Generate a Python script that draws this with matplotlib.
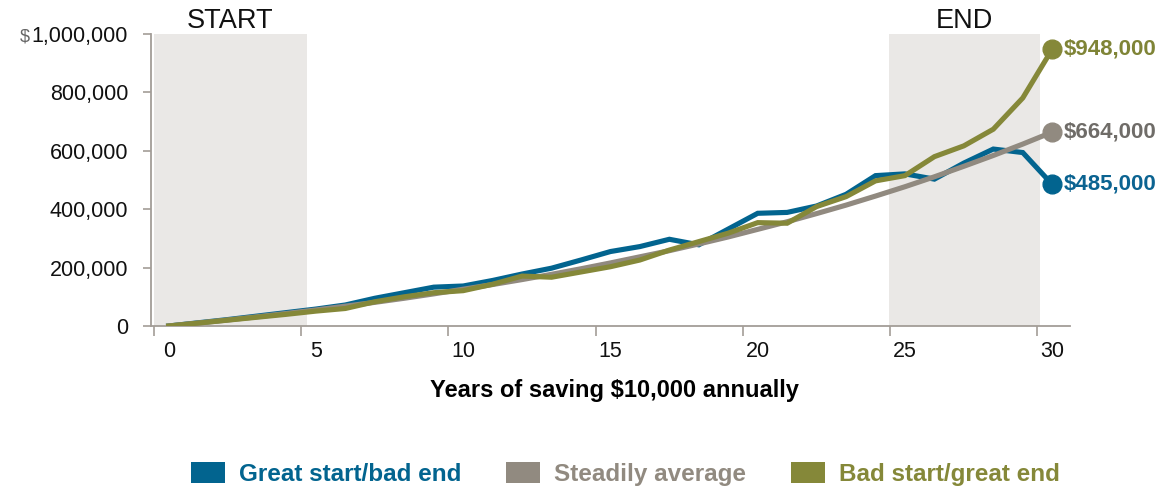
import numpy as np
import matplotlib.pyplot as plt
from matplotlib.patches import Patch

# Valores (em milhares de dólares), anos 0 a 30
anos = np.arange(0, 31)
inicio_bom = [0, 11, 22, 34, 46, 58, 72, 95, 114, 133, 137, 156, 178, 198, 226, 255,
              272, 297, 278, 332, 386, 389, 411, 451, 515, 521, 503, 558, 606, 594, 485]
constante = [0, 10, 20.5, 31.5, 43, 55, 68, 81, 95, 110, 126, 142, 159, 177, 196, 216,
             237, 258, 281, 305, 331, 357, 385, 414, 445, 477, 511, 547, 584, 623, 664]
inicio_ruim = [0, 10, 20, 30, 40, 51, 60, 83, 100, 114, 121, 143, 171, 167, 185, 203,
               226, 260, 289, 318, 354, 352, 409, 443, 497, 515, 580, 617, 674, 781, 948]

nomes = ["Great start/bad end", "Steadily average", "Bad start/great end"]
series = [inicio_bom, constante, inicio_ruim]
cores = ["#02648f", "#918a80", "#858839"]
cores_rotulo = ["#0b6391", "#6f6c68", "#7f8436"]

# faixas sombreadas (inicio e fim)
faixas = [(-0.5, 4.7, "START"), (24.45, 29.6, "END")]

fig = plt.figure(figsize=(11.68, 4.9), dpi=100)
ax = fig.add_axes([0.1293, 0.3347, 0.7867, 0.5959])

for x0, x1, txt in faixas:
    ax.axvspan(x0, x1, color="#eae8e6", lw=0, zorder=0)
    ax.annotate(txt, xy=((x0 + x1) / 2, 1), xycoords=("data", "axes fraction"),
                xytext=(0, 4), textcoords="offset points", ha="center", va="baseline",
                fontsize=19.5, family="Liberation Sans", color="#111111")

# ordem de desenho: cinza embaixo, depois azul, verde por cima
ordem = [1, 0, 2]
for i in ordem:
    vals = np.array(series[i]) * 1000
    ax.plot(anos, vals, color=cores[i], lw=3.7, solid_joinstyle="miter", zorder=2 + i)
    ax.plot(anos[-1], vals[-1], "o", ms=13.5, color=cores[i], zorder=5)
    ax.annotate(f"${vals[-1]:,.0f}", xy=(anos[-1], vals[-1]), xytext=(8.5, 0),
                textcoords="offset points", ha="left", va="center", fontsize=16,
                fontweight="bold", family="Liberation Sans", color=cores_rotulo[i],
                annotation_clip=False)

ax.set_xlim(-0.6, 30.6)
ax.set_ylim(0, 1_000_000)

ax.set_yticks(np.arange(0, 1_000_001, 200_000))
ax.set_yticklabels([f"{v:,.0f}" for v in np.arange(0, 1_000_001, 200_000)])
ax.set_xticks(np.arange(0, 31, 5))
ax.set_xticks(np.arange(-0.5, 30, 5), minor=True)

cor_eixo = "#a39d97"
for lado in ["top", "right"]:
    ax.spines[lado].set_visible(False)
for lado in ["left", "bottom"]:
    ax.spines[lado].set_color(cor_eixo)
    ax.spines[lado].set_linewidth(1.3)

ax.tick_params(axis="y", length=6, width=1.2, color=cor_eixo, labelsize=15.5, pad=10.5,
               labelcolor="#111111")
ax.tick_params(axis="x", which="major", length=0, labelsize=15.5, pad=11, labelcolor="#111111")
ax.tick_params(axis="x", which="minor", length=7, width=1.2, color=cor_eixo)
for lbl in ax.get_xticklabels() + ax.get_yticklabels():
    lbl.set_family("Liberation Sans")

fig.text(0.526, 1 - 390 / 490, "Years of saving $10,000 annually", ha="center",
         va="center", fontsize=17, fontweight="bold", family="Liberation Sans")

# legenda
alcas = [Patch(facecolor=c, edgecolor="none") for c in cores]
leg = fig.legend(alcas, nomes, loc="center", bbox_to_anchor=(0.5355, 0.033), ncol=3,
                 frameon=False, handlelength=1.4, handleheight=1.0, handletextpad=0.58,
                 columnspacing=1.85,
                 prop={"family": "Liberation Sans", "weight": "bold", "size": 17.5})
for t, c in zip(leg.get_texts(), cores):
    t.set_color(c)

# cifrão menor e cinza antes do 1,000,000
fig.canvas.draw()
lbl_topo = ax.get_yticklabels()[-1]
bb = lbl_topo.get_window_extent()
fig.text((bb.x0 - 2) / fig.bbox.width, (bb.y0 + 2) / fig.bbox.height, "$", ha="right",
         va="bottom", fontsize=13, color="#666666", family="Liberation Sans")

plt.savefig("out.png", dpi=100)
